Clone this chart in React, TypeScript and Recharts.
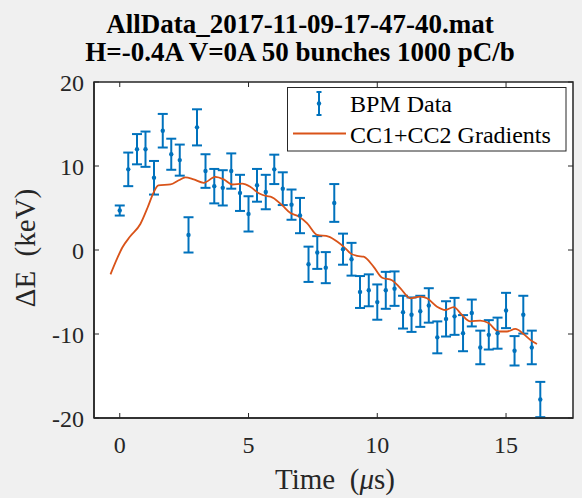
import React from "react";
import {
  ComposedChart,
  Scatter,
  Line,
  XAxis,
  YAxis,
  ErrorBar,
  ReferenceArea,
} from "recharts";

const TITLE_1 = "AllData_2017-11-09-17-47-40.mat";
const TITLE_2 = "H=-0.4A V=0A 50 bunches 1000 pC/b";

const X_TICKS = [0, 5, 10, 15];
const Y_TICKS = [-20, -10, 0, 10, 20];

// BPM data: bunch time (us), energy offset (keV), error half-width (keV)
const bpmTime = [
  0, 0.33, 0.67, 1.0, 1.33, 1.67, 2.0, 2.33, 2.67, 3.0,
  3.33, 3.67, 4.0, 4.33, 4.67, 5.0, 5.33, 5.67, 6.0, 6.33,
  6.67, 7.0, 7.33, 7.67, 8.0, 8.33, 8.67, 9.0, 9.33, 9.67,
  10.0, 10.33, 10.67, 11.0, 11.33, 11.67, 12.0, 12.33, 12.67, 13.0,
  13.33, 13.67, 14.0, 14.33, 14.67, 15.0, 15.33, 15.67, 16.0, 16.33,
];
const bpmValue = [
  4.7, 9.6, 12.0, 12.0, 8.6, 14.2, 11.4, 10.7, 1.8, 14.6,
  9.4, 7.6, 7.4, 9.4, 6.8, 4.3, 7.7, 6.9, 9.6, 7.3,
  5.4, 4.1, -1.7, -0.3, -2.1, 5.6, 0.1, -1.1, -5.0, -4.8,
  -6.2, -4.8, -4.6, -7.4, -7.7, -7.3, -6.6, -10.4, -8.2, -7.9,
  -9.9, -7.5, -11.6, -10.1, -9.9, -7.2, -12.0, -7.7, -11.6, -17.8,
];
const bpmError = [
  0.6, 2.0, 1.8, 2.1, 2.0, 2.0, 1.85, 1.85, 2.1, 2.15,
  2.0, 2.05, 2.1, 2.1, 2.15, 2.1, 1.95, 2.05, 1.75, 1.95,
  1.8, 2.1, 2.1, 1.95, 1.85, 2.25, 1.85, 1.95, 1.9, 1.9,
  2.1, 2.2, 2.05, 1.95, 2.05, 1.85, 2.05, 1.9, 2.1, 2.2,
  2.15, 1.6, 2.0, 1.75, 1.85, 2.1, 1.75, 2.25, 2.0, 2.1,
];

// CC1+CC2 gradients model curve
const modelTime = [
  -0.36, -0.1, 0.1, 0.4, 0.8, 1.1, 1.3, 1.5, 1.97, 2.29,
  2.55, 2.87, 3.26, 3.71, 4.04, 4.37, 4.75, 5.08, 5.4, 5.72,
  5.85, 6.3, 6.63, 6.95, 7.27, 7.66, 8.11, 8.44, 8.76, 8.96,
  9.22, 9.47, 9.86, 10.19, 10.57, 10.9, 11.29, 11.68, 11.93, 12.32,
  12.64, 12.97, 13.29, 13.61, 14.0, 14.32, 14.71, 15.04, 15.36, 15.68,
  15.94, 16.2,
];
const modelValue = [
  -2.9, -1.0, 0.3, 1.6, 3.1, 5.2, 6.75, 7.7, 7.8, 8.3,
  8.65, 8.4, 8.0, 8.7, 8.4, 7.8, 7.9, 7.5, 6.75, 6.4,
  6.35, 5.35, 4.4, 4.0, 3.2, 1.8, 1.6, 1.0, 0.2, -0.4,
  -0.7, -0.8, -2.0, -3.3, -3.6, -4.56, -5.75, -5.55, -5.75, -6.75,
  -7.14, -6.8, -7.74, -8.5, -8.4, -8.7, -9.7, -9.7, -9.4, -10.0,
  -10.7, -11.2,
];

const bpmData = bpmTime.map((t, i) => ({ t, v: bpmValue[i], err: bpmError[i] }));
const modelData = modelTime.map((t, i) => ({ t, v: modelValue[i] }));

const BLUE = "#0072BD";
const ORANGE = "#D95319";
const AXIS = "#262626";
const FONT = "'Liberation Serif', 'Times New Roman', serif";

const W = 582;
const H = 498;
const PLOT_TOP = 82;
const PLOT_BOTTOM = 418;
const PLOT_LEFT = 94;
const PLOT_RIGHT = 573;

const XTick = (props: any) => {
  const { x, payload } = props;
  return (
    <g>
      <line x1={x} x2={x} y1={PLOT_BOTTOM} y2={PLOT_BOTTOM - 5} stroke={AXIS} />
      <line x1={x} x2={x} y1={PLOT_TOP} y2={PLOT_TOP + 5} stroke={AXIS} />
      <text x={x} y={PLOT_BOTTOM + 35} textAnchor="middle" fontFamily={FONT} fontSize={24} fill={AXIS}>
        {payload.value}
      </text>
    </g>
  );
};

const YTick = (props: any) => {
  const { y, payload } = props;
  return (
    <g>
      <line x1={PLOT_LEFT} x2={PLOT_LEFT + 5} y1={y} y2={y} stroke={AXIS} />
      <line x1={PLOT_RIGHT} x2={PLOT_RIGHT - 5} y1={y} y2={y} stroke={AXIS} />
      <text x={PLOT_LEFT - 10} y={y + 8.5} textAnchor="end" fontFamily={FONT} fontSize={24} fill={AXIS}>
        {payload.value}
      </text>
    </g>
  );
};

const Dot = (props: any) => <circle cx={props.cx} cy={props.cy} r={2.2} fill={BLUE} />;

export default function App() {
  return (
    <div style={{ position: "absolute", left: 0, top: 0, width: W, height: H, background: "#f0f0f0" }}>
      <ComposedChart
        width={W}
        height={H}
        margin={{ top: PLOT_TOP, right: W - PLOT_RIGHT, bottom: 0, left: 0 }}
      >
        <ReferenceArea x1={-1} x2={17.6} y1={-20} y2={20} fill="#ffffff" fillOpacity={1} stroke={AXIS} strokeWidth={1.5} />
        <XAxis
          dataKey="t"
          type="number"
          domain={[-1, 17.6]}
          ticks={X_TICKS}
          allowDataOverflow
          height={H - PLOT_BOTTOM}
          tick={<XTick />}
          tickLine={false}
          axisLine={{ stroke: AXIS, strokeWidth: 1.5 }}
        />
        <YAxis
          dataKey="v"
          type="number"
          domain={[-20, 20]}
          ticks={Y_TICKS}
          allowDataOverflow
          width={PLOT_LEFT}
          tick={<YTick />}
          tickLine={false}
          axisLine={{ stroke: AXIS, strokeWidth: 1.5 }}
        />
        <Scatter data={bpmData} dataKey="v" shape={<Dot />} isAnimationActive={false}>
          <ErrorBar dataKey="err" direction="y" width={5} stroke={BLUE} strokeWidth={2} />
        </Scatter>
        <Line
          data={modelData}
          dataKey="v"
          type="monotone"
          stroke={ORANGE}
          strokeWidth={1.8}
          dot={false}
          activeDot={false}
          isAnimationActive={false}
        />
      </ComposedChart>
      <svg
        width={W}
        height={H}
        style={{ position: "absolute", left: 0, top: 0, pointerEvents: "none" }}
      >
        <text x={300} y={33} textAnchor="middle" fontFamily={FONT} fontSize={27} fontWeight="bold" fill="#000">
          {TITLE_1}
        </text>
        <text x={300} y={61} textAnchor="middle" fontFamily={FONT} fontSize={27} fontWeight="bold" fill="#000">
          {TITLE_2}
        </text>
        <text x={335} y={489} textAnchor="middle" fontFamily={FONT} fontSize={29} fill={AXIS}>
          {"Time\u00a0 ("}<tspan fontStyle="italic">μ</tspan>{"s)"}
        </text>
        <text
          x={35}
          y={248}
          transform="rotate(-90 35 248)"
          textAnchor="middle"
          fontFamily={FONT}
          fontSize={29}
          fill={AXIS}
        >
          {"ΔE\u00a0 (keV)"}
        </text>
        <g>
          <rect x={287.5} y={87.5} width={278.5} height={63.5} fill="#ffffff" stroke={AXIS} strokeWidth={1} />
          <line x1={319} x2={319} y1={92} y2={115} stroke={BLUE} strokeWidth={2} />
          <line x1={316.5} x2={321.5} y1={92} y2={92} stroke={BLUE} strokeWidth={2} />
          <line x1={316.5} x2={321.5} y1={115} y2={115} stroke={BLUE} strokeWidth={2} />
          <circle cx={319} cy={103.5} r={2.2} fill={BLUE} />
          <text x={350} y={112} fontFamily={FONT} fontSize={24} fill="#000">
            BPM Data
          </text>
          <line x1={293} x2={346} y1={133.5} y2={133.5} stroke={ORANGE} strokeWidth={1.8} />
          <text x={350} y={143} fontFamily={FONT} fontSize={24} fill="#000">
            CC1+CC2 Gradients
          </text>
        </g>
      </svg>
    </div>
  );
}
